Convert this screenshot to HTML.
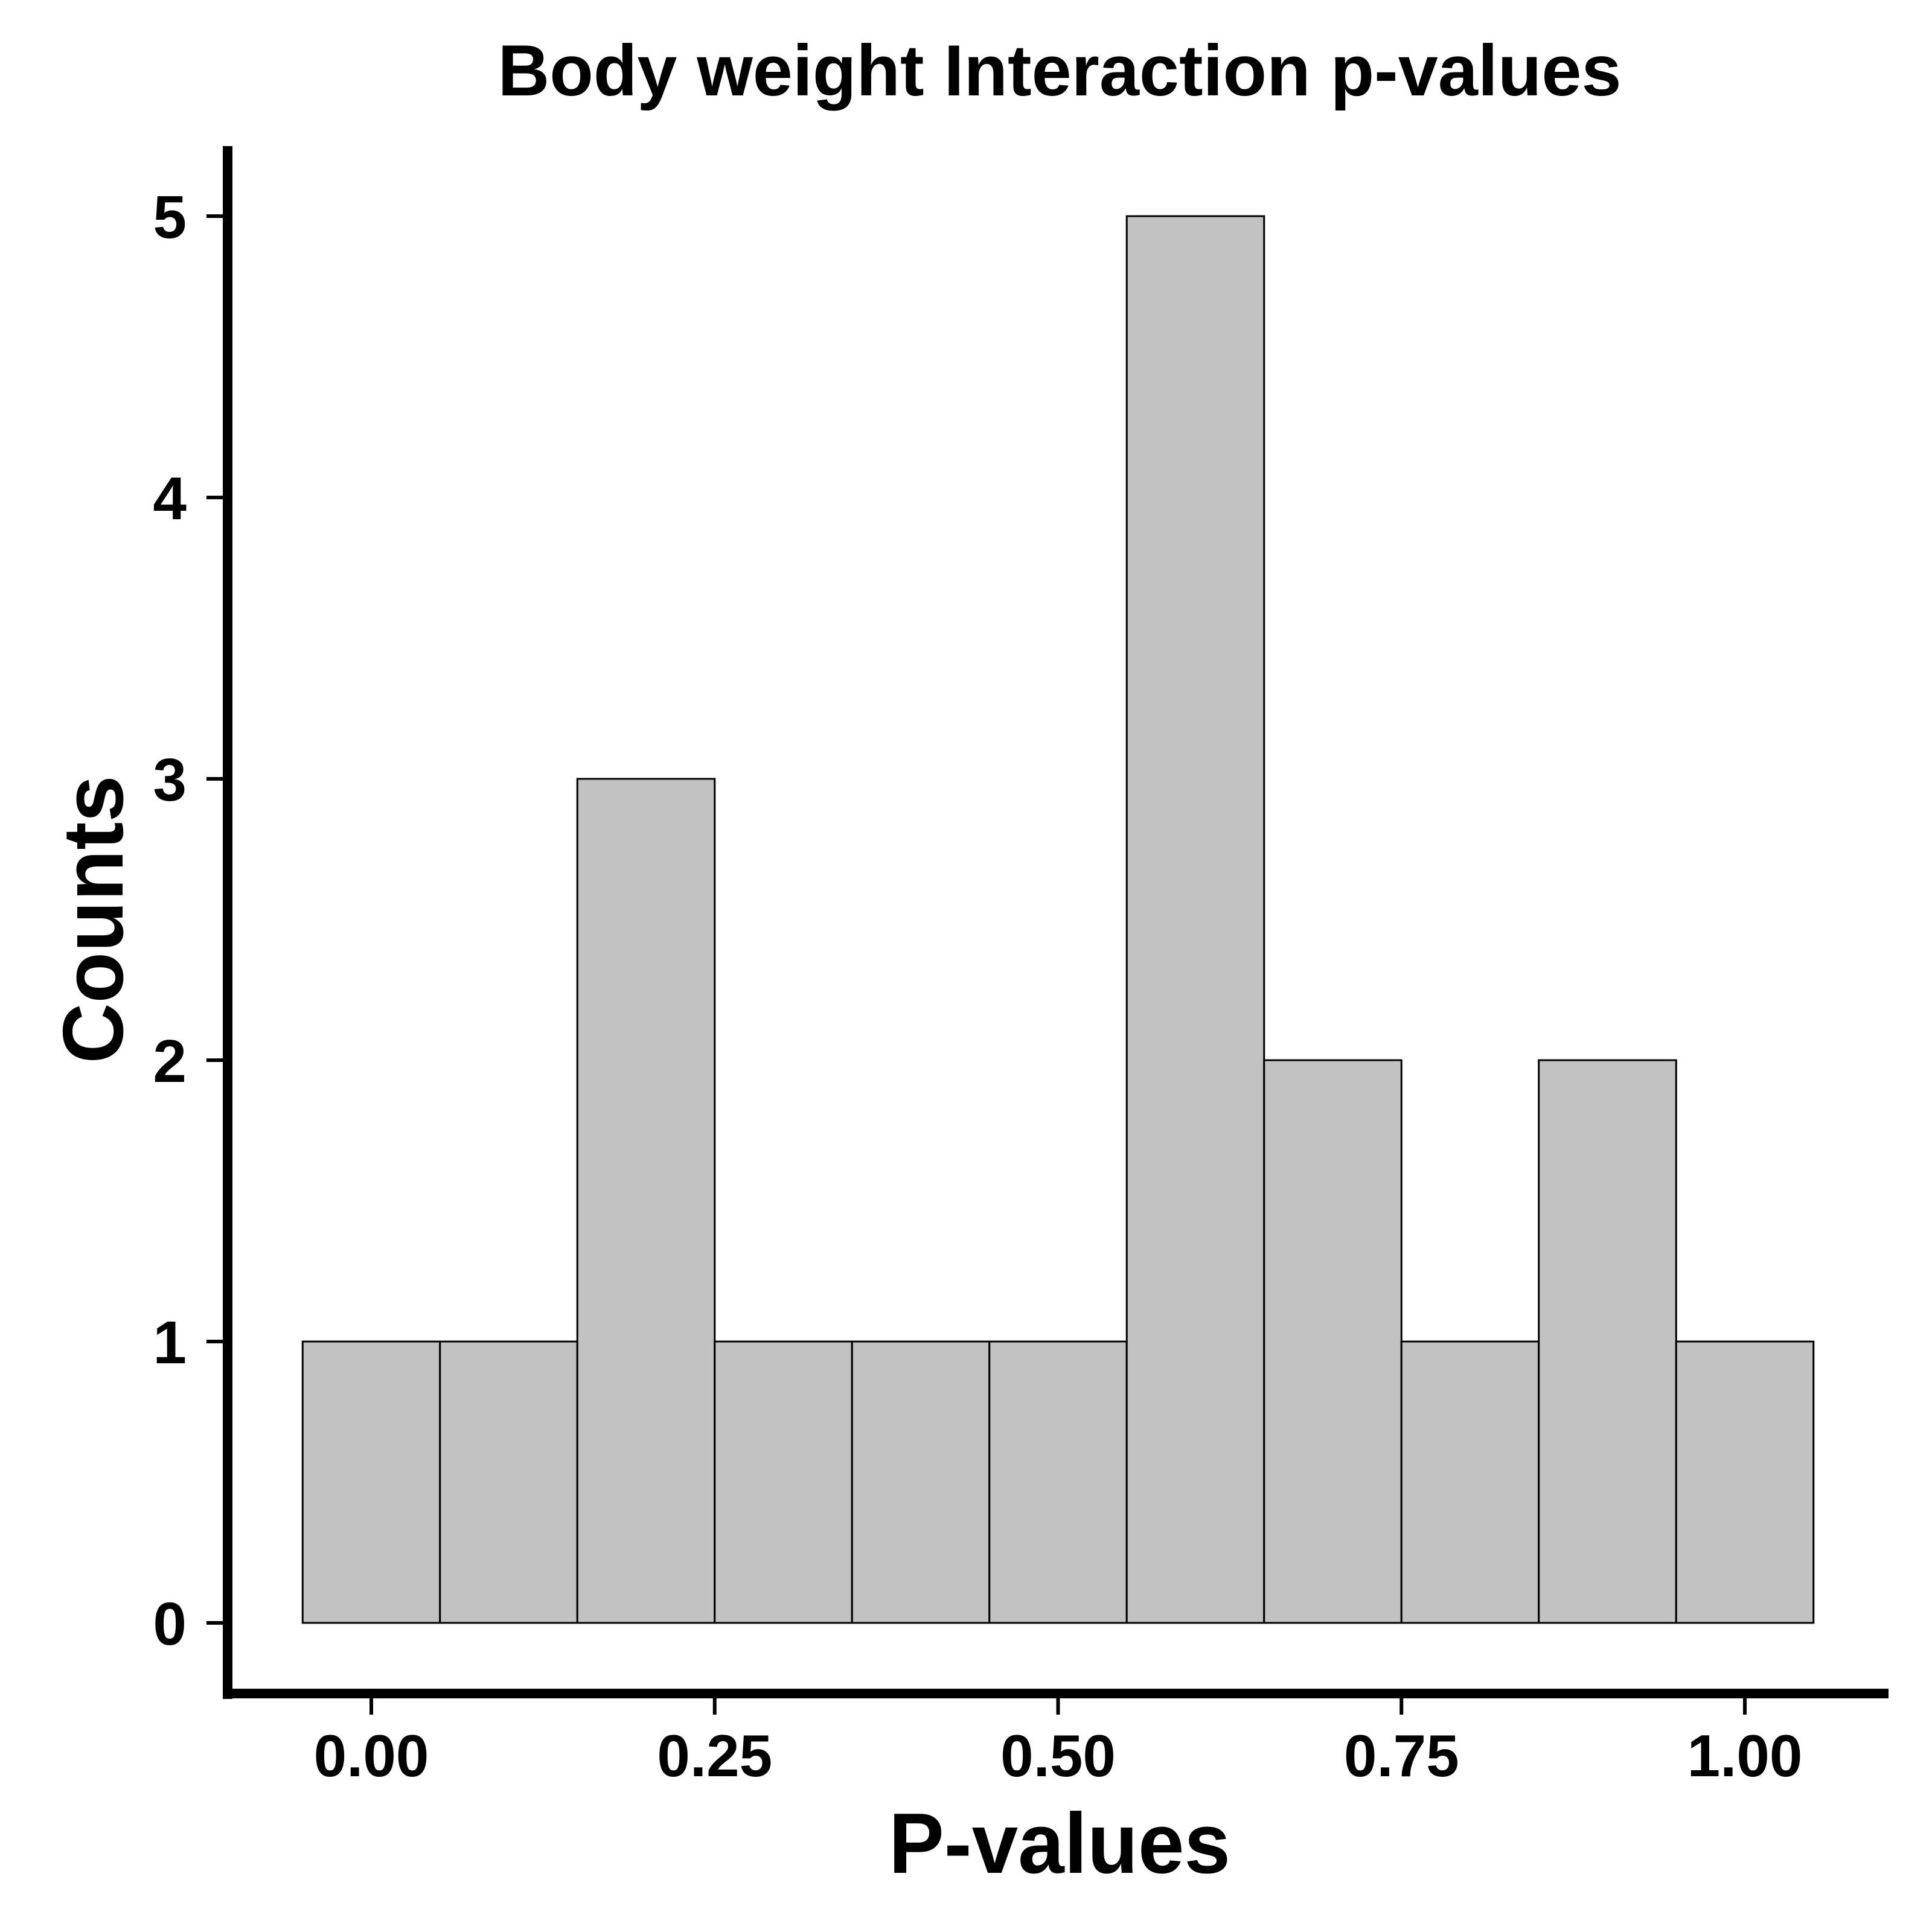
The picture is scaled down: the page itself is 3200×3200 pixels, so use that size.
<!DOCTYPE html>
<html><head><meta charset="utf-8"><style>
html,body{margin:0;padding:0;background:#fff;}
svg{display:block;}
text{font-family:"Liberation Sans",Arial,sans-serif;font-weight:bold;fill:#000;}
</style></head><body>
<svg id="chart" width="3200" height="3200" viewBox="0 0 3200 3200" xmlns="http://www.w3.org/2000/svg">
<rect width="3200" height="3200" fill="#fff"/>
<text x="1755" y="158" font-size="120" text-anchor="middle" textLength="1861" lengthAdjust="spacingAndGlyphs">Body weight Interaction p-values</text>
<g id="bars"></g>
<g id="axes"></g>
<text x="1755" y="3102" font-size="142" text-anchor="middle" textLength="566" lengthAdjust="spacingAndGlyphs">P-values</text>
<text transform="translate(203,1523) rotate(-90)" font-size="142" text-anchor="middle" textLength="477" lengthAdjust="spacingAndGlyphs">Counts</text>
</svg>
<script>
const binCenters = [0, 0.1, 0.2, 0.3, 0.4, 0.5, 0.6, 0.7, 0.8, 0.9, 1.0];
const counts = [1, 1, 3, 1, 1, 1, 5, 2, 1, 2, 1];
const binWidth = 0.1;
const xTicks = [0, 0.25, 0.5, 0.75, 1.0];
const xTickLabels = ["0.00", "0.25", "0.50", "0.75", "1.00"];
const yTicks = [0, 1, 2, 3, 4, 5];

const NS = "http://www.w3.org/2000/svg";
function xs(v){ return 615 + v * 2275; }
function ys(v){ return 2688 - v * 466; }
function mk(tag, attrs, parent){
  const e = document.createElementNS(NS, tag);
  for (const k in attrs) e.setAttribute(k, attrs[k]);
  parent.appendChild(e);
  return e;
}
const bars = document.getElementById('bars');
binCenters.forEach((c, i) => {
  const x0 = xs(c - binWidth/2), x1 = xs(c + binWidth/2);
  const r = mk('rect', {x: x0, y: ys(counts[i]), width: x1 - x0, height: ys(0) - ys(counts[i]), fill: '#c2c2c2', stroke: '#000', 'stroke-width': 3}, bars);
  
  
});
const axes = document.getElementById('axes');
const ya = mk('line', {x1: 377, y1: 242, x2: 377, y2: 2814, stroke: '#000', 'stroke-width': 16}, axes);


const xa = mk('line', {x1: 376, y1: 2805, x2: 3128, y2: 2805, stroke: '#000', 'stroke-width': 16}, axes);


yTicks.forEach(v => {
  const t = mk('line', {x1: 342, y1: ys(v), x2: 370, y2: ys(v), stroke: '#000', 'stroke-width': 6}, axes);
  
  
  const l = mk('text', {x: 309, y: ys(v) + 36, 'font-size': 100, 'text-anchor': 'end'}, axes);
  l.textContent = String(v);
  
  
});
xTicks.forEach((v, i) => {
  const t = mk('line', {x1: xs(v), y1: 2812, x2: xs(v), y2: 2840, stroke: '#000', 'stroke-width': 6}, axes);
  
  
  const l = mk('text', {x: xs(v), y: 2942, 'font-size': 98, 'text-anchor': 'middle'}, axes);
  l.textContent = xTickLabels[i];
  
  
});
</script>
</body></html>
